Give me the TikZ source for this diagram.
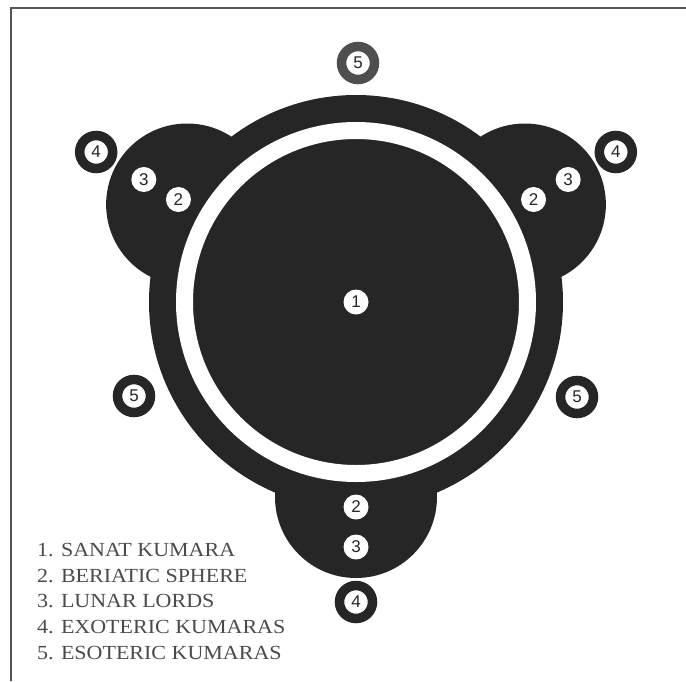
\documentclass[tikz,border=0pt]{standalone}
\usepackage{fontspec}
\usetikzlibrary{calc}
\newfontfamily\legendfont[FakeStretch=1.1]{Liberation Serif}
\newfontfamily\digitfont{Liberation Sans}
\definecolor{ink}{HTML}{262626}
\definecolor{slate}{HTML}{4F4F4F}
\definecolor{rulegray}{HTML}{555555}
\definecolor{legendgray}{HTML}{4A4A4A}

\begin{document}
\begin{tikzpicture}[x=1pt,y=-1pt,
  num/.style={circle,fill=white,inner sep=0pt,minimum size=25pt,font=\digitfont\fontsize{17}{17}\selectfont,text=ink},
  ring/.style={circle,draw=ink,line width=9.5pt,fill=white,inner sep=0pt,minimum size=33pt,font=\digitfont\fontsize{17}{17}\selectfont,text=ink},
  legend/.style={anchor=base west,inner sep=0pt,font=\legendfont\fontsize{20}{24}\selectfont,text=legendgray}]
\useasboundingbox (0,0) rectangle (686,681);
\draw[rulegray,line width=2pt] (11,681) -- (11,8) -- (686,8);
\coordinate (c) at (356,302);
% core disc with its three lobes
\fill[ink] (c) circle[radius=207pt];
\foreach \a in {150,30,270}
  \fill[ink] ($(c)+(\a:195pt)$) circle[radius=81pt];
\draw[white,line width=17pt] (c) circle[radius=171.5pt];
\node[num] (one) at (c) {1};
% 2, 3 and 4 on each lobe
\foreach \a/\s in {150/l,30/r,270/b} {
  \node[num] (two\s) at ($(c)+(\a:205pt)$) {2};
  \node[num] (three\s) at ($(c)+(\a:245pt)$) {3};
  \node[ring] (four\s) at ($(c)+(\a:300pt)$) {4};
}
% outer 5s
\node[ring,draw=slate] (fivet) at (358,63) {5};
\node[ring] (fivel) at (134,396) {5};
\node[ring] (fiver) at (577,397) {5};
% key
\foreach \t [count=\i] in {SANAT KUMARA,BERIATIC SPHERE,LUNAR LORDS,EXOTERIC KUMARAS,ESOTERIC KUMARAS}
  \node[legend] (item\i) at (37,{556.7+25.6*(\i-1)}) {\i. \t};
\end{tikzpicture}
\end{document}
